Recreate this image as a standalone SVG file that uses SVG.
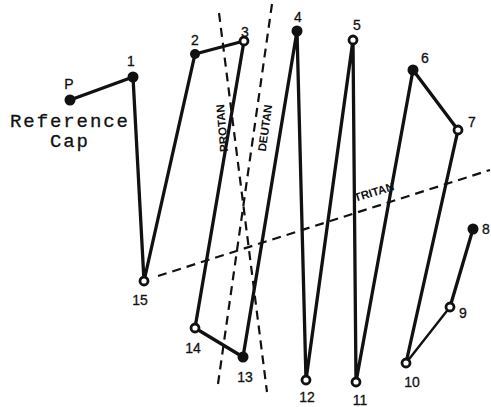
<svg xmlns="http://www.w3.org/2000/svg" width="491" height="407" viewBox="0 0 491 407">
<style>
.ln{fill:none;stroke:#111;stroke-width:3.3;stroke-linecap:round;stroke-linejoin:round}
.ds{fill:none;stroke:#111;stroke-width:2.2;stroke-dasharray:9 6}
.f{fill:#111}
.o{fill:#fff;stroke:#111;stroke-width:2.8}
.num{font-family:"Liberation Sans",Arial,sans-serif;font-size:14px;fill:#111;stroke:#111;stroke-width:0.3;text-anchor:middle}
.ax{font-family:"Liberation Sans",Arial,sans-serif;font-size:11.5px;font-weight:bold;fill:#111;text-anchor:middle}
.ref{font-family:"Liberation Mono","Courier New",monospace;font-size:19px;fill:#111;stroke:#111;stroke-width:0.3}
</style>
<rect width="491" height="407" fill="#fff"/>
<g id="axes">
<line class="ds" x1="219" y1="13" x2="267" y2="392"/>
<line class="ds" x1="272" y1="4" x2="218" y2="384"/>
<line class="ds" x1="158" y1="276" x2="490" y2="170"/>
<text class="ax" transform="translate(222,128) rotate(-95)" dy="4">PROTAN</text>
<text class="ax" transform="translate(265,128) rotate(-82)" dy="4">DEUTAN</text>
<text class="ax" transform="translate(374,192) rotate(-17)" dy="4">TRITAN</text>
</g>
<g id="connectors">
<polyline class="ln" points="70,100 133,77 144,281 195,54 244,41 195,328 243,357 297,31 306,380 353,40 356,382 413,70 458,130 406,363"/>
<line class="ln" x1="406" y1="363" x2="450" y2="307" style="stroke-width:2.4"/>
<line class="ln" x1="450" y1="307" x2="473" y2="229"/>
</g>
<g id="nodeP"><circle class="f" cx="70" cy="100" r="5.5"/><text class="num" x="69" y="89">P</text></g>
<g id="node1"><circle class="f" cx="133" cy="77" r="5.5"/><text class="num" x="131" y="66">1</text></g>
<g id="node2"><circle class="f" cx="195" cy="54" r="5"/><text class="num" x="195" y="45">2</text></g>
<g id="node3"><circle class="o" cx="244" cy="41" r="4"/><text class="num" x="245" y="37">3</text></g>
<g id="node4"><circle class="f" cx="297" cy="31" r="5.5"/><text class="num" x="298" y="22">4</text></g>
<g id="node5"><circle class="o" cx="353" cy="40" r="4"/><text class="num" x="357" y="30">5</text></g>
<g id="node6"><circle class="f" cx="413" cy="70" r="5.5"/><text class="num" x="425" y="63">6</text></g>
<g id="node7"><circle class="o" cx="458" cy="130" r="4"/><text class="num" x="472" y="127">7</text></g>
<g id="node8"><circle class="f" cx="473" cy="229" r="5.5"/><text class="num" x="486" y="234">8</text></g>
<g id="node9"><circle class="o" cx="450" cy="307" r="4"/><text class="num" x="463" y="318">9</text></g>
<g id="node10"><circle class="o" cx="406" cy="363" r="4"/><text class="num" x="412" y="387">10</text></g>
<g id="node11"><circle class="o" cx="356" cy="382" r="4"/><text class="num" x="360" y="405">11</text></g>
<g id="node12"><circle class="o" cx="306" cy="380" r="4"/><text class="num" x="307" y="402">12</text></g>
<g id="node13"><circle class="f" cx="243" cy="357" r="5.5"/><text class="num" x="245" y="382">13</text></g>
<g id="node14"><circle class="o" cx="195" cy="328" r="4"/><text class="num" x="193" y="353">14</text></g>
<g id="node15"><circle class="o" cx="144" cy="281" r="4"/><text class="num" x="140" y="305">15</text></g>
<g id="label">
<text class="ref" x="10" y="127" textLength="118" lengthAdjust="spacing">Reference</text>
<text class="ref" x="50" y="147" textLength="38" lengthAdjust="spacing">Cap</text>
</g>
</svg>
